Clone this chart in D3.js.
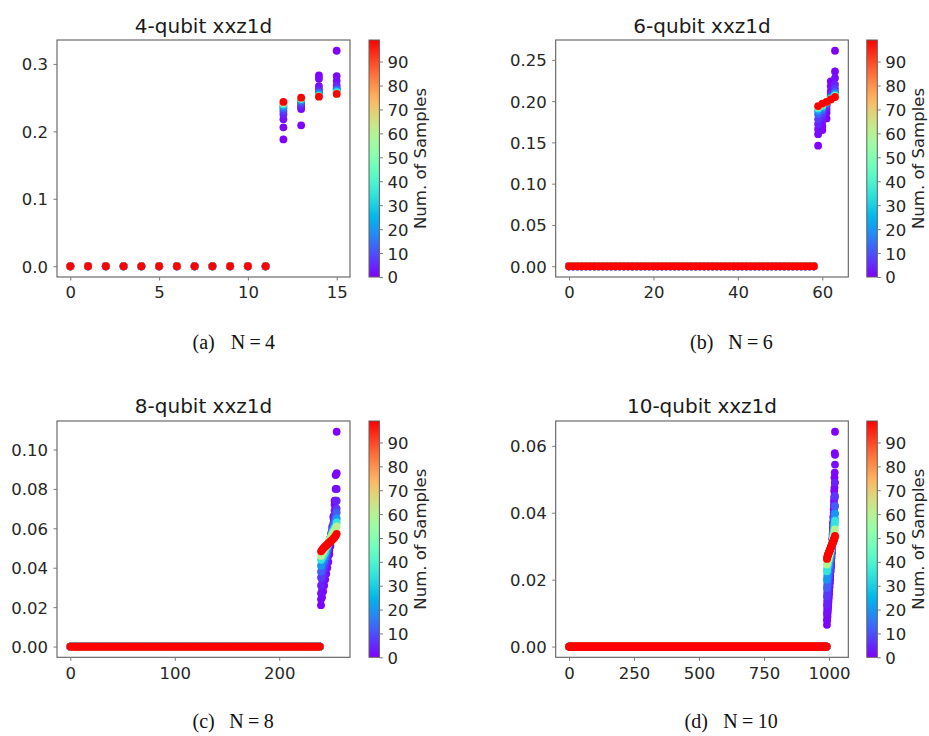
<!DOCTYPE html>
<html>
<head>
<meta charset="utf-8">
<script src="https://cdn.jsdelivr.net/npm/d3@7"></script>
<style>
  body { margin: 0; background: #fff; }
  svg { display: block; font-family: "DejaVu Sans", sans-serif; }
</style>
</head>
<body>
<svg id="fig" width="929" height="736"></svg>
<script>
// Sample counts at which the sorted spectra were recorded (colour = sample count)
const sampleLevels = [0, 1, 2, 4, 7, 12, 20, 35, 60, 99];
const colorMax = 99;
const colorTicks = [0, 10, 20, 30, 40, 50, 60, 70, 80, 90];

// N = 4: 16 eigenvalues, indices 0..11 are zero, 12..15 non-zero
const n4Size = 16;
const n4ZeroCount = 12;
const n4Values = [
  [0.188, 0.209, 0.283, 0.3195],
  [0.206, 0.233, 0.278, 0.282],
  [0.218, 0.236, 0.267, 0.275],
  [0.225, 0.238, 0.262, 0.268],
  [0.230, 0.241, 0.259, 0.264],
  [0.234, 0.244, 0.257, 0.262],
  [0.237, 0.246, 0.255, 0.260],
  [0.240, 0.248, 0.253, 0.258],
  [0.242, 0.249, 0.252, 0.256],
  [0.2436, 0.250, 0.2515, 0.2555]
];
const n4XTicks = [0, 5, 10, 15];
const n4YTicks = [0.0, 0.1, 0.2, 0.3];

// N = 6: 64 eigenvalues, indices 0..58 zero, 59..63 non-zero
const n6Size = 64;
const n6ZeroCount = 59;
const n6Values = [
  [0.146, 0.165, 0.179, 0.224, 0.261],
  [0.160, 0.170, 0.186, 0.218, 0.236],
  [0.166, 0.176, 0.190, 0.212, 0.228],
  [0.172, 0.180, 0.194, 0.208, 0.220],
  [0.178, 0.185, 0.196, 0.206, 0.215],
  [0.184, 0.189, 0.197, 0.205, 0.211],
  [0.188, 0.192, 0.198, 0.204, 0.209],
  [0.191, 0.194, 0.199, 0.203, 0.207],
  [0.193, 0.196, 0.199, 0.202, 0.206],
  [0.194, 0.197, 0.199, 0.202, 0.205]
];
const n6XTicks = [0, 20, 40, 60];
const n6YTicks = [0.00, 0.05, 0.10, 0.15, 0.20, 0.25];

// N = 8: 256 eigenvalues, indices 0..239 zero, 240..255 non-zero
const n8Size = 256;
const n8ZeroCount = 240;
const n8Values = [
  [0.021, 0.025, 0.028, 0.031, 0.034, 0.037, 0.040, 0.043, 0.047, 0.051, 0.055, 0.060, 0.066, 0.074, 0.087, 0.109],
  [0.024, 0.028, 0.031, 0.034, 0.037, 0.040, 0.043, 0.046, 0.049, 0.053, 0.057, 0.061, 0.066, 0.072, 0.080, 0.088],
  [0.027, 0.030, 0.033, 0.036, 0.039, 0.042, 0.045, 0.048, 0.051, 0.054, 0.058, 0.061, 0.065, 0.069, 0.074, 0.080],
  [0.031, 0.034, 0.036, 0.039, 0.041, 0.044, 0.046, 0.049, 0.052, 0.055, 0.057, 0.060, 0.063, 0.066, 0.069, 0.074],
  [0.035, 0.037, 0.039, 0.041, 0.043, 0.045, 0.048, 0.050, 0.052, 0.055, 0.057, 0.059, 0.062, 0.064, 0.067, 0.070],
  [0.038, 0.040, 0.042, 0.043, 0.045, 0.047, 0.049, 0.051, 0.053, 0.055, 0.057, 0.059, 0.061, 0.063, 0.065, 0.068],
  [0.041, 0.043, 0.044, 0.045, 0.047, 0.048, 0.050, 0.052, 0.053, 0.055, 0.057, 0.058, 0.060, 0.061, 0.063, 0.065],
  [0.044, 0.045, 0.046, 0.047, 0.048, 0.050, 0.051, 0.052, 0.054, 0.055, 0.056, 0.058, 0.059, 0.060, 0.061, 0.063],
  [0.046, 0.047, 0.048, 0.049, 0.050, 0.051, 0.052, 0.053, 0.054, 0.055, 0.056, 0.057, 0.058, 0.059, 0.060, 0.061],
  [0.0483, 0.0490, 0.0497, 0.0503, 0.0508, 0.0513, 0.0518, 0.0523, 0.0528, 0.0533, 0.0538, 0.0543, 0.0549, 0.0555, 0.0562, 0.0572]
];
const n8XTicks = [0, 100, 200];
const n8YTicks = [0.00, 0.02, 0.04, 0.06, 0.08, 0.10];

// N = 10: 1024 eigenvalues, indices 0..991 zero, 992..1023 non-zero
const n10Size = 1024;
const n10ZeroCount = 992;
const n10Values = [
  [0.0065, 0.0078, 0.0090, 0.0101, 0.0112, 0.0123, 0.0134, 0.0145, 0.0156, 0.0167, 0.0178, 0.0190, 0.0202, 0.0214, 0.0226, 0.0238, 0.0251, 0.0264, 0.0278, 0.0292, 0.0306, 0.0321, 0.0337, 0.0353, 0.0370, 0.0389, 0.0410, 0.0435, 0.0465, 0.0505, 0.0578, 0.0642],
  [0.0080, 0.0094, 0.0106, 0.0117, 0.0128, 0.0138, 0.0148, 0.0158, 0.0168, 0.0178, 0.0189, 0.0200, 0.0211, 0.0222, 0.0233, 0.0244, 0.0256, 0.0268, 0.0280, 0.0293, 0.0306, 0.0320, 0.0334, 0.0349, 0.0365, 0.0382, 0.0400, 0.0420, 0.0445, 0.0475, 0.0520, 0.0573],
  [0.0100, 0.0113, 0.0124, 0.0134, 0.0144, 0.0153, 0.0162, 0.0171, 0.0180, 0.0189, 0.0198, 0.0208, 0.0218, 0.0228, 0.0238, 0.0248, 0.0259, 0.0270, 0.0281, 0.0293, 0.0305, 0.0317, 0.0330, 0.0343, 0.0357, 0.0372, 0.0388, 0.0405, 0.0425, 0.0450, 0.0490, 0.0544],
  [0.0125, 0.0137, 0.0147, 0.0156, 0.0165, 0.0173, 0.0181, 0.0189, 0.0197, 0.0205, 0.0213, 0.0221, 0.0229, 0.0237, 0.0245, 0.0254, 0.0263, 0.0272, 0.0282, 0.0292, 0.0302, 0.0313, 0.0324, 0.0335, 0.0347, 0.0359, 0.0372, 0.0386, 0.0401, 0.0420, 0.0445, 0.0490],
  [0.0150, 0.0160, 0.0169, 0.0177, 0.0185, 0.0192, 0.0199, 0.0206, 0.0213, 0.0220, 0.0227, 0.0234, 0.0241, 0.0248, 0.0255, 0.0262, 0.0270, 0.0278, 0.0286, 0.0294, 0.0302, 0.0311, 0.0320, 0.0329, 0.0339, 0.0349, 0.0360, 0.0371, 0.0384, 0.0398, 0.0418, 0.0450],
  [0.0175, 0.0184, 0.0192, 0.0199, 0.0206, 0.0212, 0.0218, 0.0224, 0.0230, 0.0236, 0.0242, 0.0248, 0.0254, 0.0260, 0.0266, 0.0272, 0.0278, 0.0284, 0.0291, 0.0298, 0.0305, 0.0312, 0.0319, 0.0327, 0.0335, 0.0343, 0.0352, 0.0361, 0.0371, 0.0382, 0.0396, 0.0420],
  [0.0200, 0.0208, 0.0215, 0.0221, 0.0227, 0.0232, 0.0237, 0.0242, 0.0247, 0.0252, 0.0257, 0.0262, 0.0267, 0.0272, 0.0277, 0.0282, 0.0287, 0.0292, 0.0297, 0.0303, 0.0309, 0.0315, 0.0321, 0.0327, 0.0333, 0.0340, 0.0347, 0.0354, 0.0362, 0.0371, 0.0382, 0.0398],
  [0.0225, 0.0232, 0.0238, 0.0243, 0.0247, 0.0251, 0.0255, 0.0259, 0.0263, 0.0267, 0.0271, 0.0275, 0.0279, 0.0283, 0.0287, 0.0291, 0.0295, 0.0299, 0.0303, 0.0307, 0.0311, 0.0315, 0.0319, 0.0324, 0.0329, 0.0334, 0.0339, 0.0344, 0.0350, 0.0357, 0.0365, 0.0376],
  [0.0245, 0.0250, 0.0254, 0.0258, 0.0261, 0.0264, 0.0267, 0.0270, 0.0273, 0.0276, 0.0279, 0.0282, 0.0285, 0.0288, 0.0291, 0.0294, 0.0297, 0.0300, 0.0303, 0.0306, 0.0309, 0.0312, 0.0315, 0.0318, 0.0321, 0.0324, 0.0327, 0.0330, 0.0334, 0.0338, 0.0343, 0.0350],
  [0.0262, 0.0266, 0.0269, 0.0272, 0.0274, 0.0276, 0.0278, 0.0280, 0.0282, 0.0284, 0.0286, 0.0288, 0.0290, 0.0292, 0.0294, 0.0296, 0.0298, 0.0300, 0.0302, 0.0304, 0.0306, 0.0308, 0.0310, 0.0312, 0.0314, 0.0316, 0.0318, 0.0320, 0.0322, 0.0324, 0.0327, 0.0331]
];
const n10XTicks = [0, 250, 500, 750, 1000];
const n10YTicks = [0.00, 0.02, 0.04, 0.06];

const titles = ["4-qubit xxz1d", "6-qubit xxz1d", "8-qubit xxz1d", "10-qubit xxz1d"];
const captionLetters = ["(a)", "(b)", "(c)", "(d)"];
const captionSizes = ["4", "6", "8", "10"];

// matplotlib "rainbow" colormap
function rainbow(t) {
  const r = Math.min(1, Math.max(0, Math.abs(2 * t - 0.5)));
  const g = Math.min(1, Math.max(0, Math.sin(Math.PI * t)));
  const b = Math.min(1, Math.max(0, Math.cos(Math.PI * t / 2)));
  return d3.rgb(r * 255, g * 255, b * 255).formatHex();
}

const svg = d3.select("#fig");
const TEXT = "#262626", FRAME = "#5e5e5e", TICK = "#7a7a7a";
const FS = 16.5;

// Gradient used by every colour bar
const defs = svg.append("defs");
const grad = defs.append("linearGradient").attr("id", "rainbowGrad")
  .attr("x1", 0).attr("y1", 1).attr("x2", 0).attr("y2", 0);
d3.range(0, 1.0001, 0.02).forEach(t => {
  grad.append("stop").attr("offset", t).attr("stop-color", rainbow(t));
});

const layout = [
  { x0: 57, x1: 350, y0: 40, y1: 277, cb0: 369, cb1: 379.4, titleY: 32.5,
    capY: 349, letterX: 192.5, nX: 230.7 },
  { x0: 555.7, x1: 848.3, y0: 40, y1: 277, cb0: 866.8, cb1: 877.3, titleY: 32.5,
    capY: 349, letterX: 690, nX: 728.3 },
  { x0: 57, x1: 350, y0: 421, y1: 657.3, cb0: 369, cb1: 379.4, titleY: 412.7,
    capY: 728.3, letterX: 192.5, nX: 229.3 },
  { x0: 555.7, x1: 848.3, y0: 421, y1: 657.3, cb0: 866.8, cb1: 877.3, titleY: 412.7,
    capY: 728.3, letterX: 684.5, nX: 723.3 }
];

const panels = [
  { size: n4Size, zeros: n4ZeroCount, values: n4Values, xTicks: n4XTicks, yTicks: n4YTicks, yFmt: ".1f" },
  { size: n6Size, zeros: n6ZeroCount, values: n6Values, xTicks: n6XTicks, yTicks: n6YTicks, yFmt: ".2f" },
  { size: n8Size, zeros: n8ZeroCount, values: n8Values, xTicks: n8XTicks, yTicks: n8YTicks, yFmt: ".2f" },
  { size: n10Size, zeros: n10ZeroCount, values: n10Values, xTicks: n10XTicks, yTicks: n10YTicks, yFmt: ".2f" }
];

function styleAxis(g) {
  g.select(".domain").remove();
  g.selectAll(".tick line").attr("stroke", TICK).attr("stroke-width", 1);
  g.selectAll(".tick text").attr("fill", TEXT).attr("font-size", FS)
    .attr("font-family", '"DejaVu Sans", sans-serif');
}

panels.forEach((p, i) => {
  const L = layout[i];

  // Full spectrum per sample level: zeros followed by the non-zero tail
  const points = [];
  sampleLevels.forEach((s, li) => {
    for (let k = 0; k < p.zeros; k++) points.push({ x: k, y: 0, s });
    p.values[li].forEach((v, j) => points.push({ x: p.zeros + j, y: v, s }));
  });

  const xMax = p.size - 1;
  const yMax = d3.max(points, d => d.y);
  const xPad = xMax * 0.05, yPad = yMax * 0.05;
  const x = d3.scaleLinear().domain([-xPad, xMax + xPad]).range([L.x0, L.x1]);
  const y = d3.scaleLinear().domain([-yPad, yMax + yPad]).range([L.y1, L.y0]);
  const c = d3.scaleLinear().domain([0, colorMax]).range([0, 1]);

  const g = svg.append("g");

  // Points, low sample counts first so the converged spectrum sits on top
  g.append("g").selectAll("circle").data(points).join("circle")
    .attr("cx", d => x(d.x)).attr("cy", d => y(d.y)).attr("r", 3.9)
    .attr("fill", d => rainbow(c(d.s)));

  // Frame
  g.append("rect").attr("x", L.x0).attr("y", L.y0)
    .attr("width", L.x1 - L.x0).attr("height", L.y1 - L.y0)
    .attr("fill", "none").attr("stroke", FRAME).attr("stroke-width", 1.1);

  g.append("g").attr("transform", `translate(0,${L.y1})`)
    .call(d3.axisBottom(x).tickValues(p.xTicks).tickSize(3.5).tickPadding(6).tickFormat(d3.format("d")))
    .call(styleAxis);
  g.append("g").attr("transform", `translate(${L.x0},0)`)
    .call(d3.axisLeft(y).tickValues(p.yTicks).tickSize(3.5).tickPadding(5.5).tickFormat(d3.format(p.yFmt)))
    .call(styleAxis)
    .selectAll(".tick text").attr("dy", "0.36em");

  // Title
  g.append("text").attr("x", (L.x0 + L.x1) / 2).attr("y", L.titleY)
    .attr("text-anchor", "middle").attr("font-size", 20).attr("fill", "#1a1a1a")
    .text(titles[i]);

  // Colour bar
  const cb = d3.scaleLinear().domain([0, colorMax]).range([L.y1, L.y0]);
  g.append("rect").attr("x", L.cb0).attr("y", L.y0)
    .attr("width", L.cb1 - L.cb0).attr("height", L.y1 - L.y0)
    .attr("fill", "url(#rainbowGrad)").attr("stroke", FRAME).attr("stroke-width", 1);
  g.append("g").attr("transform", `translate(${L.cb1},0)`)
    .call(d3.axisRight(cb).tickValues(colorTicks).tickSize(3.5).tickPadding(4.5))
    .call(styleAxis)
    .selectAll(".tick text").attr("dy", "0.36em");
  g.append("text")
    .attr("transform", `translate(${L.cb1 + 41},${(L.y0 + L.y1) / 2}) rotate(-90)`)
    .attr("text-anchor", "middle").attr("dy", "0.36em")
    .attr("font-size", FS).attr("fill", TEXT)
    .text("Num. of Samples");

  // Sub-figure caption: letter and system size
  const capFont = '"Liberation Serif", "DejaVu Serif", serif';
  g.append("text").attr("x", L.letterX).attr("y", L.capY)
    .attr("font-family", capFont).attr("font-size", 20).attr("fill", "#111")
    .text(captionLetters[i]);
  const nt = g.append("text").attr("x", L.nX).attr("y", L.capY)
    .attr("font-family", capFont).attr("font-size", 20).attr("fill", "#111");
  nt.append("tspan").text("N");
  nt.append("tspan").attr("dx", 4.3).text("=");
  nt.append("tspan").attr("dx", 4.3).text(captionSizes[i]);
});
</script>
</body>
</html>
